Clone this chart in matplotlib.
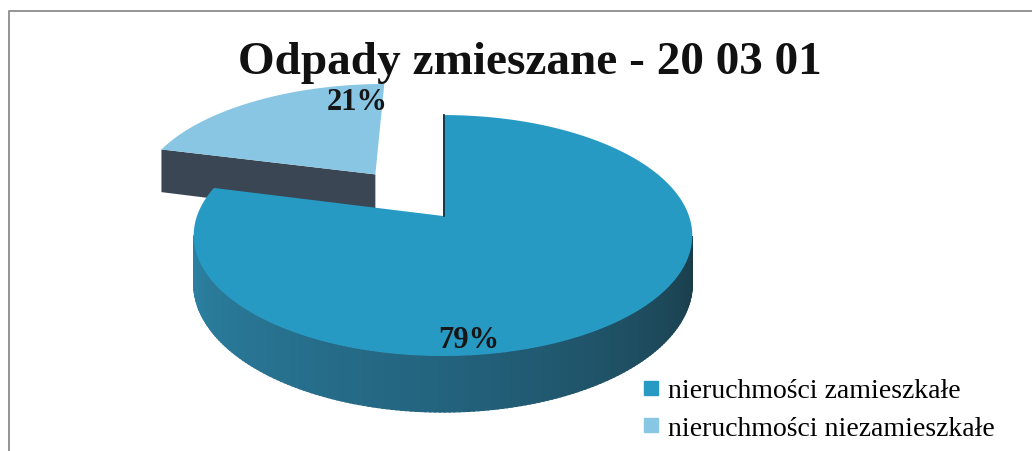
import numpy as np
import matplotlib
matplotlib.use("Agg")
import matplotlib.pyplot as plt
from matplotlib.patches import Polygon
from matplotlib.lines import Line2D
from matplotlib.colors import to_rgb

title = "Odpady zmieszane - 20 03 01"
labels = ["nieruchmości zamieszkałe", "nieruchmości niezamieszkałe"]
shares = [79, 21]
explode = [0.0, 0.476]
top_colors = ["#279ac4", "#88c6e4"]
face_colors = ["#1f5f78", "#3a4653"]
# side shading of the big slice, left -> front -> right
side_stops = ["#2c83a4", "#23637e", "#1a3c48"]

# pie geometry (pixels), simple perspective
cx, cy = 443, 217
rx, ry = 246, 117.3
persp = 0.162
depth = 47


def project(u, v, w=0.0):
    k = 1.0 / (1.0 + persp * v)
    return cx + rx * u * k, cy - ry * v * k + w * k


def mix(colors, s):
    cols = [np.array(to_rgb(c)) for c in colors]
    pos = s * (len(cols) - 1)
    i = min(int(pos), len(cols) - 2)
    f = pos - i
    return tuple(cols[i] * (1 - f) + cols[i + 1] * f)


fig = plt.figure(figsize=(10.32, 4.52), dpi=100)
ax = fig.add_axes([0, 0, 1, 1])
ax.set_xlim(0, 1032)
ax.set_ylim(452, 0)
ax.axis("off")

# frame of the scanned chart
ax.plot([9, 9, 1032], [452, 12, 12], color="#8c8c8c", lw=1.3)

# slice angles: start at 12 o'clock, clockwise
fracs = np.array(shares, dtype=float) / sum(shares)
angles = []
start = 90.0
for f in fracs:
    angles.append((start - f * 360.0, start))
    start -= f * 360.0

# draw back slices first (exploded small one)
order = np.argsort([-e for e in explode])
for i in order:
    t1, t2 = angles[i]
    mid = np.radians((t1 + t2) / 2)
    du, dv = explode[i] * np.cos(mid), explode[i] * np.sin(mid)
    ts = np.radians(np.linspace(t1, t2, 300))

    # outer wall, only front facing part
    vis = ts[np.sin(ts) < -persp]
    if len(vis) > 1:
        for j in range(len(vis) - 1):
            a, b = vis[j], vis[j + 1] + 0.004
            pts = [project(du + np.cos(a), dv + np.sin(a)),
                   project(du + np.cos(b), dv + np.sin(b)),
                   project(du + np.cos(b), dv + np.sin(b), depth),
                   project(du + np.cos(a), dv + np.sin(a), depth)]
            s = (vis[j] - vis[0]) / (vis[-1] - vis[0])
            c = mix(side_stops, s)
            ax.add_patch(Polygon(pts, closed=True, facecolor=c,
                                 edgecolor=c, lw=0.8))

    # cut faces that look toward the viewer
    for edge, normal in ((t1, t1 - 90), (t2, t2 + 90)):
        if np.sin(np.radians(normal)) < -0.01:
            e = np.radians(edge)
            pts = [project(du, dv), project(du + np.cos(e), dv + np.sin(e)),
                   project(du + np.cos(e), dv + np.sin(e), depth),
                   project(du, dv, depth)]
            ax.add_patch(Polygon(pts, closed=True, facecolor=face_colors[i],
                                 edgecolor="none"))

    # top face
    pts = [project(du, dv)] + [project(du + np.cos(t), dv + np.sin(t)) for t in ts]
    ax.add_patch(Polygon(pts, closed=True, facecolor=top_colors[i], edgecolor="none"))

    if explode[i] == 0:
        e = np.radians(t2)
        p0, p1 = project(du, dv), project(du + np.cos(e), dv + np.sin(e))
        ax.plot([p0[0] + 1, p1[0] + 1], [p0[1], p1[1]], color="#14323d", lw=1.3)

# title and data labels
ax.text(530, 63, title, ha="center", va="center", fontsize=34,
        fontweight="bold", family="Liberation Serif", color="#111111")
label_pos = [(469, 341), (357, 102)]
for (x, y), v in zip(label_pos, shares):
    ax.text(x, y, f"{v}%", ha="center", va="center", fontsize=22,
            fontweight="bold", family="Liberation Serif", color="#161616")

handles = [Line2D([], [], marker="s", linestyle="none", markersize=9.5,
                  markerfacecolor=c, markeredgecolor=c) for c in top_colors]
fig.legend(handles, labels, loc="upper left", bbox_to_anchor=(643 / 1032, 1 - 379 / 452),
           frameon=False, borderaxespad=0, borderpad=0, handlelength=0.6,
           handletextpad=0.3, labelspacing=0.43,
           prop={"family": "Liberation Serif", "size": 20})

fig.savefig("out.png", dpi=100, facecolor="white")
